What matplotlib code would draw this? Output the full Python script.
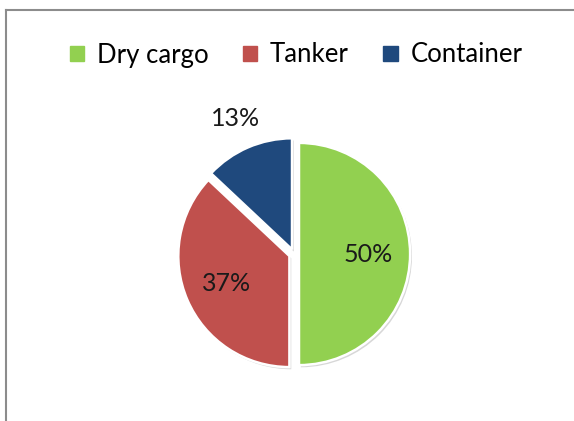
import matplotlib.pyplot as plt
from matplotlib.lines import Line2D

categories = ["Dry cargo", "Tanker", "Container"]
shares = [50, 37, 13]
colors = ["#92D050", "#C0504D", "#1F497D"]

plt.rcParams['font.family'] = ['Lato', 'DejaVu Sans']

fig = plt.figure(figsize=(5.74, 4.21), dpi=100)
W, H = 574, 421
cx, cy, half = 294, 254, 150
ax = fig.add_axes([(cx - half) / W, (H - cy - half) / H, 2 * half / W, 2 * half / H])

wedges, texts, autotexts = ax.pie(shares, colors=colors, startangle=90, counterclock=False,
                                  explode=[0.045] * 3, autopct='%1.0f%%', pctdistance=0.62,
                                  wedgeprops=dict(edgecolor='white', linewidth=1.8),
                                  shadow=dict(ox=0.012, oy=-0.014, facecolor='#bdbdbd',
                                              edgecolor='none', alpha=0.6),
                                  textprops=dict(fontsize=18, color='#1a1a1a'))
# small slice label goes outside
x, y = autotexts[2].get_position()
autotexts[2].set_position((x * 2.0, y * 2.0))

ax.set_xlim(-1.35, 1.35)
ax.set_ylim(-1.35, 1.35)
ax.set_aspect('equal')
ax.axis('off')

handles = [plt.Rectangle((0, 0), 1, 1, color=c) for c in colors]
fig.legend(handles, categories, loc='center', bbox_to_anchor=(296 / W, 1 - 55 / H),
           ncol=3, frameon=False, fontsize=18.5, handlelength=0.55, handleheight=0.55,
           handletextpad=0.5, columnspacing=1.35)

# chart frame (cropped at right and bottom)
fig.add_artist(Line2D([6 / W, 6 / W], [0, 1 - 10 / H], transform=fig.transFigure, color='#8c8c8c', lw=1.5))
fig.add_artist(Line2D([6 / W, 1], [1 - 10 / H, 1 - 10 / H], transform=fig.transFigure, color='#8c8c8c', lw=1.5))

fig.savefig('out.png', dpi=100)
